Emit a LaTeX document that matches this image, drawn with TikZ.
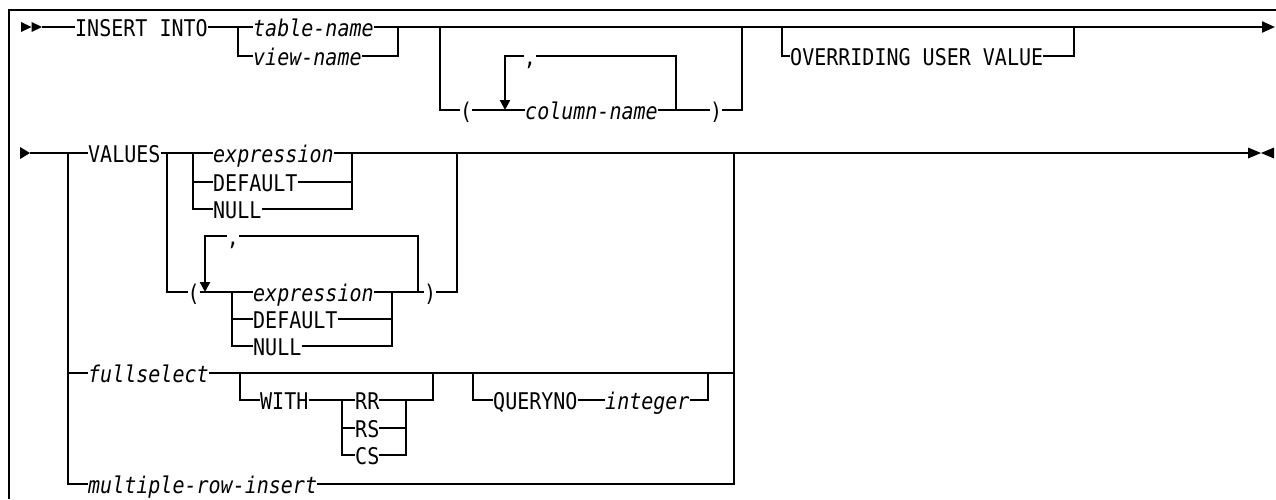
\documentclass[tikz,border=0pt]{standalone}
\usepackage{fontspec}
\newfontfamily\railfont[FakeStretch=0.87]{DejaVu Sans Mono}
\usetikzlibrary{arrows.meta}
\tikzset{
  rail/.style={black,line width=2.2pt},
  repeatrail/.style={rail,-{Triangle[length=10pt,width=10pt]}},
  endtip/.style={rail,-{Triangle[length=13pt,width=11pt]}},
  pageframe/.style={black,line width=2.2pt},
  kw/.style={anchor=west,inner sep=0pt,text height=20pt,text depth=2pt,
             font=\railfont\fontsize{23}{27}\selectfont},
  var/.style={kw,font=\railfont\fontsize{23}{27}\selectfont\itshape},
  punct/.style={kw,anchor=center},
}

\begin{document}
\begin{tikzpicture}[x=1pt,y=-1pt]
  \useasboundingbox (0,0) rectangle (1276,499);
  \draw[pageframe] (9,499) -- (9,10) -- (1276,10);

  % first line: INSERT INTO target
  \fill (21,22) -- (31.5,27) -- (21,32) -- cycle;
  \fill (31.5,22) -- (42,27) -- (31.5,32) -- cycle;
  \coordinate (s1) at (42,27);
  \node[kw] (insert) at (75,27) {INSERT INTO};
  \coordinate (tgtL) at (238,27);
  \coordinate (tgtR) at (398,27);
  \node[var] (tname) at (253,27) {table-name};
  \node[var] (vname) at (253,56) {view-name};
  \draw[rail] (s1) -- (insert.west);
  \draw[rail] (insert.east) -- (tname.west);
  \draw[rail] (tgtL) |- (vname.west);
  \draw[rail] (tname.east) -- (tgtR);
  \draw[rail] (vname.east) -| (tgtR);

  % optional column list
  \coordinate (colL) at (440,27);
  \coordinate (colR) at (742,27);
  \coordinate (ovrL) at (782,27);
  \coordinate (ovrR) at (1074,27);
  \coordinate (end1) at (1275,27);
  \node[kw] (lpar1) at (460,110) {(};
  \coordinate (rep1L) at (505,110);
  \node[var] (colname) at (525,110) {column-name};
  \coordinate (rep1R) at (676,110);
  \node[kw] (rpar1) at (710,110) {)};
  \node[punct] (comma1) at (530,56) {,};
  \draw[rail] (tgtR) -- (colL) -- (colR) -- (ovrL) -- (ovrR);
  \draw[endtip] (ovrR) -- (end1);
  \draw[rail] (colL) |- (lpar1.west);
  \draw[rail] (lpar1.east) -- (colname.west);
  \draw[rail] (colname.east) -- (rpar1.west);
  \draw[rail] (rpar1.east) -| (colR);
  \draw[rail] (rep1R) |- (comma1.east);
  \draw[repeatrail] (comma1.west) -| (rep1L);

  % OVERRIDING USER VALUE
  \node[kw] (ovr) at (790,56) {OVERRIDING USER VALUE};
  \draw[rail] (ovrL) |- (ovr.west);
  \draw[rail] (ovr.east) -| (ovrR);

  % second line: source of the rows
  \fill (20,147) -- (30,153) -- (20,159) -- cycle;
  \coordinate (s2) at (30,153);
  \coordinate (srcL) at (68,153);
  \coordinate (srcR) at (734,153);
  \coordinate (srcM) at (734,373);
  \coordinate (end2) at (1248,153);
  \node[kw] (values) at (88,153) {VALUES};
  \node[var] (fullsel) at (88,373) {fullselect};
  \node[var] (multi) at (88,484) {multiple-row-insert};
  \draw[rail] (s2) -- (values.west);
  \draw[rail] (srcL) |- (fullsel.west);
  \draw[rail] (srcL) |- (multi.west);
  \draw[rail] (multi.east) -| (srcR);
  \draw[rail] (srcR) -- (end2);
  \fill (1248,147.5) -- (1261,153) -- (1248,158.5) -- cycle;
  \fill (1274,147.5) -- (1261,153) -- (1274,158.5) -- cycle;

  % VALUES single row
  \coordinate (valL) at (167,153);
  \coordinate (valR) at (457,153);
  \coordinate (oneL) at (193,153);
  \coordinate (oneR) at (352,153);
  \node[var] (expr1) at (213,153) {expression};
  \node[kw] (def1) at (213,182) {DEFAULT};
  \node[kw] (null1) at (213,209) {NULL};
  \draw[rail] (values.east) -- (expr1.west);
  \draw[rail] (oneL) |- (def1.west);
  \draw[rail] (oneL) |- (null1.west);
  \draw[rail] (expr1.east) -- (srcR);
  \draw[rail] (def1.east) -| (oneR);
  \draw[rail] (null1.east) -| (oneR);

  % VALUES list in parentheses
  \node[kw] (lpar2) at (187.5,292) {(};
  \coordinate (rep2L) at (205,292);
  \coordinate (lstL) at (232,292);
  \coordinate (lstR) at (392,292);
  \coordinate (rep2R) at (418,292);
  \node[var] (expr2) at (253,292) {expression};
  \node[kw] (def2) at (253,319) {DEFAULT};
  \node[kw] (null2) at (253,346) {NULL};
  \node[kw] (rpar2) at (424,292) {)};
  \node[punct] (comma2) at (233,236) {,};
  \draw[rail] (valL) |- (lpar2.west);
  \draw[rail] (lpar2.east) -- (expr2.west);
  \draw[rail] (lstL) |- (def2.west);
  \draw[rail] (lstL) |- (null2.west);
  \draw[rail] (expr2.east) -- (rpar2.west);
  \draw[rail] (def2.east) -| (lstR);
  \draw[rail] (null2.east) -| (lstR);
  \draw[rail] (rpar2.east) -| (valR);
  \draw[rail] (rep2R) |- (comma2.east);
  \draw[repeatrail] (comma2.west) -| (rep2L);

  % fullselect options
  \coordinate (withL) at (240,373);
  \coordinate (withR) at (433,373);
  \coordinate (isoL) at (342,400);
  \coordinate (isoR) at (406,400);
  \coordinate (qnoL) at (473,373);
  \coordinate (qnoR) at (708,373);
  \node[kw] (with) at (260,400) {WITH};
  \node[kw] (rr) at (355,400) {RR};
  \node[kw] (rs) at (355,428) {RS};
  \node[kw] (cs) at (355,455) {CS};
  \node[kw] (queryno) at (493,400) {QUERYNO};
  \node[var] (integer) at (605,400) {integer};
  \draw[rail] (fullsel.east) -- (srcM);
  \draw[rail] (withL) |- (with.west);
  \draw[rail] (with.east) -- (rr.west);
  \draw[rail] (isoL) |- (rs.west);
  \draw[rail] (isoL) |- (cs.west);
  \draw[rail] (rr.east) -| (withR);
  \draw[rail] (rs.east) -| (isoR);
  \draw[rail] (cs.east) -| (isoR);
  \draw[rail] (qnoL) |- (queryno.west);
  \draw[rail] (queryno.east) -- (integer.west);
  \draw[rail] (integer.east) -| (qnoR);
\end{tikzpicture}
\end{document}
